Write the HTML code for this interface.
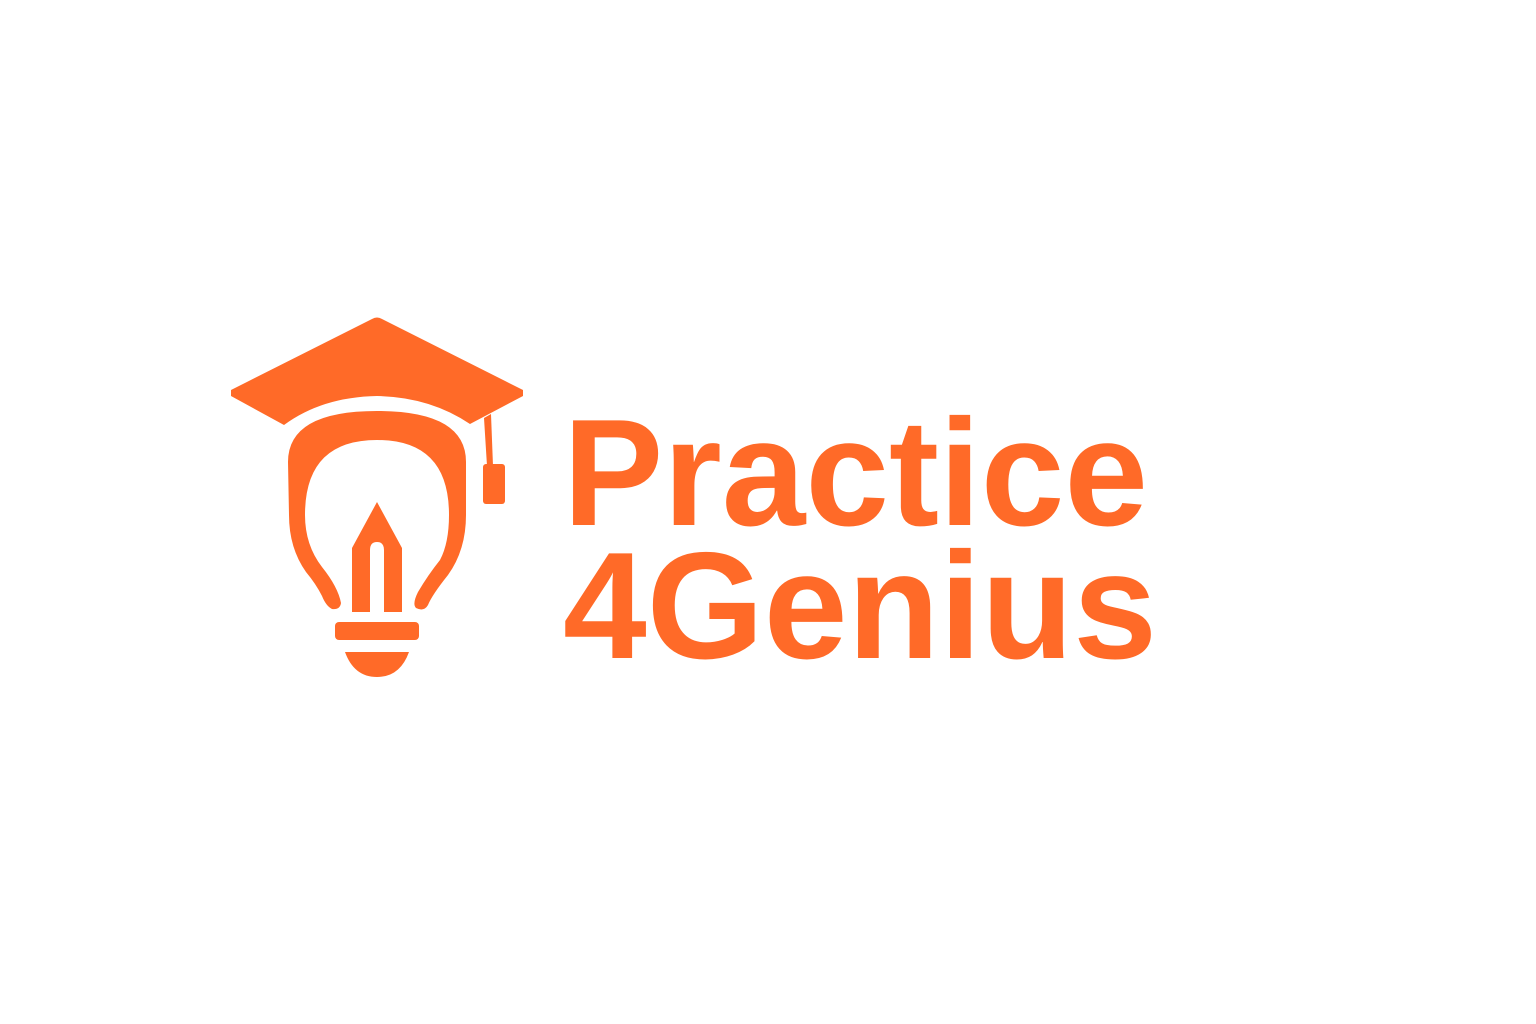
<!DOCTYPE html>
<html><head><meta charset="utf-8"><style>
html,body{margin:0;padding:0;background:#fff;width:1536px;height:1024px;overflow:hidden}
</style></head><body>
<svg width="1536" height="1024" viewBox="0 0 1536 1024">
<g fill="#FF6A28">
  <path d="M231,390 L372,319 Q377,316 382,319 L523,390 L523,396 L470,424 Q430,397 377,396 Q322,397 284,425 L231,396 Z"/>
  <path d="M484,418 L491,414 L493,466 L487,466 Z"/>
  <rect x="483" y="464" width="22" height="40" rx="3"/>
  <path fill-rule="evenodd" d="M288,462 Q288,411 377,411 Q466,411 466,462 L466,515 Q466,550 448,575 Q432,595 428,605 Q424,612 416,608 Q412,604 418,592 Q428,575 440,560 Q449,543 449,515 Q449,440 377,440 Q305,440 305,515 Q305,545 322,567 Q338,587 341,603 Q340,610 332,609 Q326,606 322,596 Q316,584 306,572 Q289,548 289,515 Z"/>
  <path fill-rule="evenodd" d="M377,502 L402,548 L402,612 L352,612 L352,548 Z M370,612 L384,612 L384,550 Q384,542 377,542 Q370,542 370,550 Z"/>
  <rect x="335" y="622" width="84" height="18" rx="4"/>
  <path d="M345,652 L409,652 Q400,677 377,677 Q354,677 345,652 Z"/>
</g>
<text x="563" y="525" font-family="Liberation Sans, sans-serif" font-weight="bold" font-size="152" fill="#FF6A28" textLength="585" lengthAdjust="spacingAndGlyphs">Practice</text>
<text x="563" y="658" font-family="Liberation Sans, sans-serif" font-weight="bold" font-size="152" fill="#FF6A28" textLength="594" lengthAdjust="spacingAndGlyphs">4Genius</text>
</svg>
</body></html>
